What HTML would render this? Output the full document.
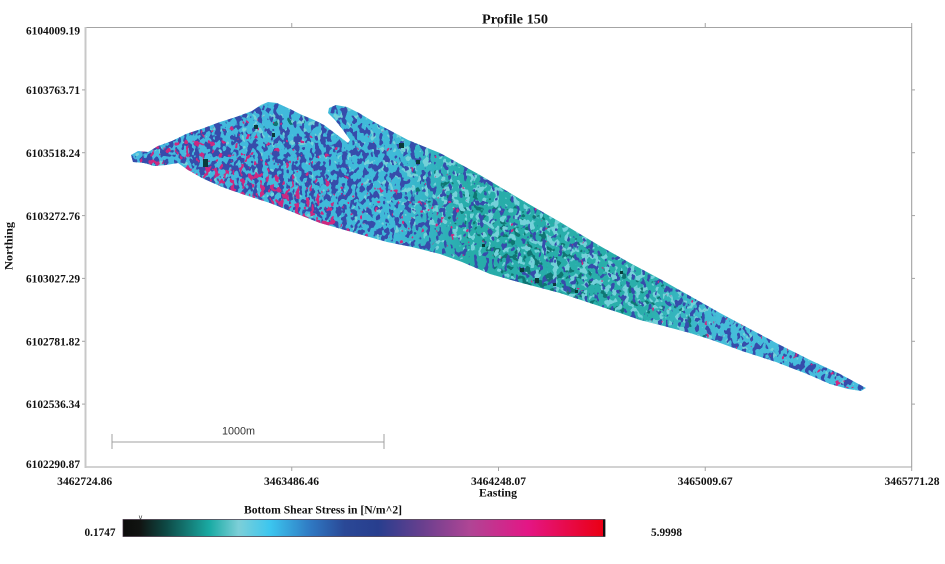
<!DOCTYPE html>
<html><head><meta charset="utf-8"><style>
html,body{margin:0;padding:0;background:#fff;}
svg{display:block;}
.lb{font-family:"Liberation Serif",serif;font-weight:bold;fill:#111;}
</style></head><body>
<svg width="945" height="564" viewBox="0 0 945 564" xmlns="http://www.w3.org/2000/svg">
<defs>
<clipPath id="shape"><path d="M131,155 L138,151 L148,152 L158,146 L172,141 L186,134 L204,128 L220,122 L236,117 L252,111 L261,105 L268,102 L277,103 L290,109 L302,115 L314,120 L324,125 L336,134 L348,143 L350,140 L343,130 L335,120 L328,113 L329,108 L336,105 L347,107 L359,113 L374,122 L391,131 L408,140 L425,147 L440,153 L480,175 L520,199 L560,222 L600,246 L630,263 L660,279 L690,296 L720,313 L750,329 L780,345 L810,360 L840,374 L866,388 L861,391 L848,389 L830,384 L807,374 L776,362 L742,351 L712,340 L690,333 L660,325 L640,320 L620,313 L590,303 L560,293 L522,283 L490,274 L462,262 L440,254 L412,247 L387,242 L352,232 L320,223 L295,213 L270,203 L245,195 L222,187 L202,178 L188,170 L178,163 L166,165 L154,166 L144,163 L133,162 Z"/></clipPath>

<filter id="bl8" x="-50%" y="-50%" width="200%" height="200%"><feGaussianBlur stdDeviation="8"/></filter>
<filter id="bl15" x="-50%" y="-50%" width="200%" height="200%"><feGaussianBlur stdDeviation="15"/></filter>

<filter id="NB" x="85" y="27" width="827" height="440" filterUnits="userSpaceOnUse" color-interpolation-filters="sRGB">
 <feTurbulence type="fractalNoise" baseFrequency="0.19 0.14" numOctaves="2" seed="4" result="t0"/>
 <feColorMatrix in="t0" type="matrix" values="1 0 0 0 0  0 0 0 0 0  0 0 0 0 0  0 0 0 0 1" result="t"/>
 <feComposite in="t" in2="SourceGraphic" operator="arithmetic" k1="0" k2="1" k3="0.8" k4="-0.55" result="s"/>
 <feColorMatrix in="s" type="matrix" values="0 0 0 0 0.21  0 0 0 0 0.30  0 0 0 0 0.67  25 0 0 0 -12.5"/>
</filter>
<filter id="NM" x="85" y="27" width="827" height="440" filterUnits="userSpaceOnUse" color-interpolation-filters="sRGB">
 <feTurbulence type="fractalNoise" baseFrequency="0.2 0.15" numOctaves="2" seed="11" result="t0"/>
 <feColorMatrix in="t0" type="matrix" values="1 0 0 0 0  0 0 0 0 0  0 0 0 0 0  0 0 0 0 1" result="t"/>
 <feComposite in="t" in2="SourceGraphic" operator="arithmetic" k1="0" k2="1" k3="0.8" k4="-0.55" result="s"/>
 <feColorMatrix in="s" type="matrix" values="0 0 0 0 0.80  0 0 0 0 0.16  0 0 0 0 0.50  25 0 0 0 -12.5"/>
</filter>
<filter id="NL" x="85" y="27" width="827" height="440" filterUnits="userSpaceOnUse" color-interpolation-filters="sRGB">
 <feTurbulence type="fractalNoise" baseFrequency="0.17 0.15" numOctaves="2" seed="23" result="t0"/>
 <feColorMatrix in="t0" type="matrix" values="1 0 0 0 0  0 0 0 0 0  0 0 0 0 0  0 0 0 0 1" result="t"/>
 <feComposite in="t" in2="SourceGraphic" operator="arithmetic" k1="0" k2="1" k3="0.8" k4="-0.55" result="s"/>
 <feColorMatrix in="s" type="matrix" values="0 0 0 0 0.45  0 0 0 0 0.82  0 0 0 0 0.85  25 0 0 0 -12.5"/>
</filter>
<filter id="ND" x="85" y="27" width="827" height="440" filterUnits="userSpaceOnUse" color-interpolation-filters="sRGB">
 <feTurbulence type="fractalNoise" baseFrequency="0.15 0.15" numOctaves="2" seed="37" result="t0"/>
 <feColorMatrix in="t0" type="matrix" values="1 0 0 0 0  0 0 0 0 0  0 0 0 0 0  0 0 0 0 1" result="t"/>
 <feComposite in="t" in2="SourceGraphic" operator="arithmetic" k1="0" k2="1" k3="0.8" k4="-0.55" result="s"/>
 <feColorMatrix in="s" type="matrix" values="0 0 0 0 0.06  0 0 0 0 0.46  0 0 0 0 0.45  25 0 0 0 -12.5"/>
</filter>

<linearGradient id="base" gradientUnits="userSpaceOnUse" x1="130" y1="0" x2="866" y2="0">
 <stop offset="0" stop-color="#44b9e0"/>
 <stop offset="0.36" stop-color="#3fbad8"/>
 <stop offset="0.46" stop-color="#27aca9"/>
 <stop offset="0.7" stop-color="#2aafab"/>
 <stop offset="0.8" stop-color="#45bdd8"/>
 <stop offset="1" stop-color="#46bddf"/>
</linearGradient>
<linearGradient id="bBlue" gradientUnits="userSpaceOnUse" x1="130" y1="0" x2="866" y2="0">
 <stop offset="0" stop-color="rgb(176,176,176)"/>
 <stop offset="0.149" stop-color="rgb(176,176,176)"/>
 <stop offset="0.299" stop-color="rgb(172,172,172)"/>
 <stop offset="0.394" stop-color="rgb(156,156,156)"/>
 <stop offset="0.476" stop-color="rgb(142,142,142)"/>
 <stop offset="0.584" stop-color="rgb(140,140,140)"/>
 <stop offset="0.707" stop-color="rgb(150,150,150)"/>
 <stop offset="0.802" stop-color="rgb(158,158,158)"/>
 <stop offset="0.91" stop-color="rgb(166,166,166)"/>
 <stop offset="1" stop-color="rgb(176,176,176)"/>
</linearGradient>
</defs>

<!-- data -->
<g clip-path="url(#shape)">
 <rect x="85" y="27" width="827" height="440" fill="url(#base)"/>
 <!-- dark teal mottling -->
 <g filter="url(#ND)">
  <rect x="85" y="27" width="827" height="440" fill="#000"/>
  <ellipse cx="560" cy="255" rx="200" ry="40" transform="rotate(29 560 255)" fill="rgb(138,138,138)" filter="url(#bl15)"/>
  <ellipse cx="545" cy="278" rx="70" ry="20" transform="rotate(28 545 278)" fill="rgb(168,168,168)" filter="url(#bl8)"/>
  <ellipse cx="290" cy="122" rx="45" ry="14" transform="rotate(-20 290 122)" fill="rgb(144,144,144)" filter="url(#bl8)"/>
 </g>
 <!-- light cyan mottling -->
 <g filter="url(#NL)">
  <rect x="85" y="27" width="827" height="440" fill="rgb(120,120,120)"/>
  <ellipse cx="540" cy="235" rx="190" ry="40" transform="rotate(29 540 235)" fill="rgb(160,160,160)" filter="url(#bl15)"/>
  <ellipse cx="300" cy="125" rx="60" ry="15" transform="rotate(-15 300 125)" fill="rgb(152,152,152)" filter="url(#bl8)"/>
 </g>
 <!-- blue mottling -->
 <g filter="url(#NB)">
  <rect x="85" y="27" width="827" height="440" fill="url(#bBlue)"/>
  <ellipse cx="285" cy="122" rx="50" ry="14" transform="rotate(-18 285 122)" fill="rgb(150,150,150)" filter="url(#bl8)"/>
  <ellipse cx="380" cy="125" rx="35" ry="12" transform="rotate(25 380 125)" fill="rgb(152,152,152)" filter="url(#bl8)"/>
 </g>
 <!-- magenta mottling -->
 <g filter="url(#NM)">
  <rect x="85" y="27" width="827" height="440" fill="rgb(90,90,90)"/>
  <ellipse cx="250" cy="170" rx="120" ry="35" transform="rotate(20 250 170)" fill="rgb(132,132,132)" filter="url(#bl15)"/>
  <ellipse cx="270" cy="197" rx="90" ry="16" transform="rotate(22 270 197)" fill="rgb(163,163,163)" filter="url(#bl8)"/>
  <ellipse cx="150" cy="158" rx="20" ry="8" fill="rgb(164,164,164)" filter="url(#bl8)"/>
  <ellipse cx="840" cy="378" rx="30" ry="7" transform="rotate(26 840 378)" fill="rgb(160,160,160)" filter="url(#bl8)"/>
  <ellipse cx="420" cy="210" rx="60" ry="20" transform="rotate(25 420 210)" fill="rgb(118,118,118)" filter="url(#bl8)"/>
  <ellipse cx="760" cy="340" rx="60" ry="10" transform="rotate(27 760 340)" fill="rgb(112,112,112)" filter="url(#bl8)"/>
 </g>
 <!-- dark specks -->
 <g fill="#0a3a3a">
  <rect x="203" y="159" width="5" height="8"/>
  <rect x="254" y="125" width="4" height="4"/>
  <rect x="272" y="133" width="3" height="4"/>
  <rect x="399" y="143" width="5" height="5"/>
  <rect x="416" y="160" width="4" height="4"/>
  <rect x="482" y="244" width="3" height="3"/>
  <rect x="520" y="268" width="4" height="4"/>
  <rect x="535" y="278" width="4" height="5"/>
  <rect x="553" y="283" width="3" height="3"/>
  <rect x="575" y="290" width="3" height="3"/>
  <rect x="620" y="271" width="3" height="3"/>
 </g>
</g>

<!-- axes frame -->
<line x1="85" y1="27.5" x2="912" y2="27.5" stroke="#a4a4a4" stroke-width="1"/>
<line x1="85" y1="467" x2="912" y2="467" stroke="#a4a4a4" stroke-width="1"/>
<line x1="911.7" y1="27" x2="911.7" y2="467" stroke="#9a9a9a" stroke-width="1"/>
<line x1="85.5" y1="27" x2="85.5" y2="468" stroke="#c8c8c8" stroke-width="2"/>
<g stroke="#a4a4a4" stroke-width="1">
 <line x1="291.75" y1="23" x2="291.75" y2="27"/>
 <line x1="498.5" y1="23" x2="498.5" y2="27"/>
 <line x1="705.25" y1="23" x2="705.25" y2="27"/>
 <line x1="911.7" y1="23" x2="911.7" y2="27"/>
 <line x1="291.75" y1="467" x2="291.75" y2="471"/>
 <line x1="498.5" y1="467" x2="498.5" y2="471"/>
 <line x1="705.25" y1="467" x2="705.25" y2="471"/>
 <line x1="911.7" y1="467" x2="911.7" y2="471"/>
 <line x1="82" y1="89.9" x2="85" y2="89.9"/>
 <line x1="82" y1="152.7" x2="85" y2="152.7"/>
 <line x1="82" y1="215.6" x2="85" y2="215.6"/>
 <line x1="82" y1="278.4" x2="85" y2="278.4"/>
 <line x1="82" y1="341.3" x2="85" y2="341.3"/>
 <line x1="82" y1="404.1" x2="85" y2="404.1"/>
 <line x1="912" y1="89.9" x2="915" y2="89.9"/>
 <line x1="912" y1="152.7" x2="915" y2="152.7"/>
 <line x1="912" y1="215.6" x2="915" y2="215.6"/>
 <line x1="912" y1="278.4" x2="915" y2="278.4"/>
 <line x1="912" y1="341.3" x2="915" y2="341.3"/>
 <line x1="912" y1="404.1" x2="915" y2="404.1"/>
</g>

<!-- title -->
<text class="lb" x="515" y="23.5" font-size="14" text-anchor="middle" textLength="66" lengthAdjust="spacingAndGlyphs">Profile 150</text>

<!-- y labels -->
<g class="lb" font-size="11.5" text-anchor="end">
 <text x="80" y="34.5" textLength="54" lengthAdjust="spacingAndGlyphs">6104009.19</text>
 <text x="80" y="94" textLength="54" lengthAdjust="spacingAndGlyphs">6103763.71</text>
 <text x="80" y="157" textLength="54" lengthAdjust="spacingAndGlyphs">6103518.24</text>
 <text x="80" y="219.8" textLength="54" lengthAdjust="spacingAndGlyphs">6103272.76</text>
 <text x="80" y="282.6" textLength="54" lengthAdjust="spacingAndGlyphs">6103027.29</text>
 <text x="80" y="345.5" textLength="54" lengthAdjust="spacingAndGlyphs">6102781.82</text>
 <text x="80" y="408.2" textLength="54" lengthAdjust="spacingAndGlyphs">6102536.34</text>
 <text x="80" y="468" textLength="54" lengthAdjust="spacingAndGlyphs">6102290.87</text>
</g>
<text class="lb" font-size="12" text-anchor="middle" transform="translate(12.5,246) rotate(-90)" textLength="48" lengthAdjust="spacingAndGlyphs">Northing</text>

<!-- x labels -->
<g class="lb" font-size="11.5" text-anchor="middle">
 <text x="84.7" y="485" textLength="55" lengthAdjust="spacingAndGlyphs">3462724.86</text>
 <text x="291.5" y="485" textLength="55" lengthAdjust="spacingAndGlyphs">3463486.46</text>
 <text x="498.5" y="485" textLength="55" lengthAdjust="spacingAndGlyphs">3464248.07</text>
 <text x="705.2" y="485" textLength="55" lengthAdjust="spacingAndGlyphs">3465009.67</text>
 <text x="912" y="485" textLength="55" lengthAdjust="spacingAndGlyphs">3465771.28</text>
</g>
<text class="lb" x="498" y="496.5" font-size="12" text-anchor="middle" textLength="38" lengthAdjust="spacingAndGlyphs">Easting</text>

<!-- scale bar -->
<g stroke="#a0a0a0" stroke-width="1">
 <line x1="112" y1="442" x2="384" y2="442"/>
 <line x1="112" y1="434" x2="112" y2="449"/>
 <line x1="384" y1="434" x2="384" y2="449"/>
</g>
<text x="238.5" y="434.5" font-family="'Liberation Sans',sans-serif" font-size="11" fill="#333" text-anchor="middle" textLength="33" lengthAdjust="spacingAndGlyphs">1000m</text>

<!-- colorbar -->
<defs>
<linearGradient id="cbar" x1="0" y1="0" x2="1" y2="0">
 <stop offset="0" stop-color="#0c0c0a"/>
 <stop offset="0.035" stop-color="#111412"/>
 <stop offset="0.09" stop-color="#0e4a46"/>
 <stop offset="0.18" stop-color="#1aaba4"/>
 <stop offset="0.24" stop-color="#7dcfd8"/>
 <stop offset="0.305" stop-color="#3cc6ef"/>
 <stop offset="0.39" stop-color="#2f78c2"/>
 <stop offset="0.46" stop-color="#2a4896"/>
 <stop offset="0.53" stop-color="#283e8e"/>
 <stop offset="0.62" stop-color="#683f8e"/>
 <stop offset="0.72" stop-color="#b04595"/>
 <stop offset="0.84" stop-color="#e41685"/>
 <stop offset="0.99" stop-color="#ea0018"/>
 <stop offset="1" stop-color="#ea0018"/>
</linearGradient>
</defs>
<rect x="123" y="519.5" width="482" height="17" fill="url(#cbar)" stroke="#3a2a3a" stroke-width="0.7"/>
<rect x="603" y="519.5" width="2.2" height="17" fill="#111"/>
<text class="lb" x="323" y="513.5" font-size="11.5" text-anchor="middle" textLength="158" lengthAdjust="spacingAndGlyphs">Bottom Shear Stress in [N/m^2]</text>
<text class="lb" x="115.5" y="536" font-size="12" text-anchor="end" textLength="31" lengthAdjust="spacingAndGlyphs">0.1747</text>
<text class="lb" x="651" y="536" font-size="12" textLength="31" lengthAdjust="spacingAndGlyphs">5.9998</text>
<text x="140.5" y="519.5" font-family="'Liberation Sans',sans-serif" font-size="7" fill="#333" text-anchor="middle">v</text>
</svg>
</body></html>
